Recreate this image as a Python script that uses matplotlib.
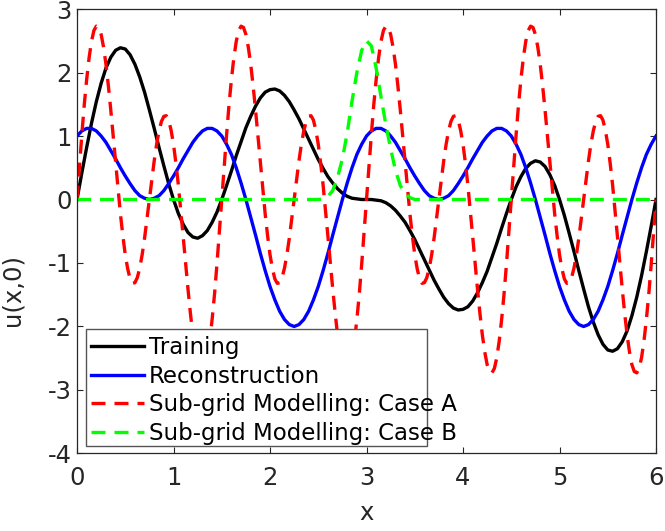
import numpy as np
import matplotlib.pyplot as plt
from matplotlib.patches import Rectangle

plt.rcParams['font.family'] = ['DejaVu Sans']
plt.rcParams['axes.unicode_minus'] = False

# sample positions along x
x_coarse = np.linspace(0, 6, 121)   # step 0.05
x_fine = np.linspace(0, 6, 241)     # step 0.025

training = [
    0.00, 0.42, 0.82, 1.20, 1.54, 1.83, 2.07, 2.24, 2.35, 2.39,
    2.37, 2.28, 2.13, 1.93, 1.69, 1.41, 1.12, 0.82, 0.53, 0.25,
    0.00, -0.22, -0.39, -0.52, -0.59, -0.61, -0.57, -0.49, -0.36, -0.20,
    0.00, 0.22, 0.45, 0.69, 0.91, 1.13, 1.31, 1.47, 1.60, 1.69,
    1.73, 1.74, 1.71, 1.64, 1.54, 1.41, 1.27, 1.11, 0.95, 0.79,
    0.63, 0.49, 0.36, 0.26, 0.17, 0.10, 0.05, 0.02, 0.01, 0.00,
    0.00, -0.00, -0.01, -0.02, -0.05, -0.10, -0.17, -0.26, -0.36, -0.49,
    -0.63, -0.79, -0.95, -1.11, -1.27, -1.41, -1.54, -1.64, -1.71, -1.74,
    -1.73, -1.69, -1.60, -1.47, -1.31, -1.13, -0.91, -0.69, -0.45, -0.22,
    0.00, 0.20, 0.36, 0.49, 0.57, 0.61, 0.59, 0.52, 0.39, 0.22,
    0.00, -0.25, -0.53, -0.82, -1.12, -1.41, -1.69, -1.93, -2.13, -2.28,
    -2.37, -2.39, -2.35, -2.24, -2.07, -1.83, -1.54, -1.20, -0.82, -0.42,
    0.00,
]

reconstruction = [
    1.00, 1.08, 1.12, 1.12, 1.08, 1.00, 0.90, 0.77, 0.64, 0.50,
    0.37, 0.25, 0.14, 0.06, 0.02, 0.00, 0.02, 0.06, 0.14, 0.25,
    0.37, 0.50, 0.64, 0.77, 0.90, 1.00, 1.08, 1.12, 1.12, 1.08,
    1.00, 0.87, 0.71, 0.50, 0.26, 0.00, -0.28, -0.56, -0.85, -1.12,
    -1.37, -1.58, -1.76, -1.89, -1.97, -2.00, -1.97, -1.89, -1.76, -1.58,
    -1.37, -1.12, -0.85, -0.56, -0.28, 0.00, 0.26, 0.50, 0.71, 0.87,
    1.00, 1.08, 1.12, 1.12, 1.08, 1.00, 0.90, 0.77, 0.64, 0.50,
    0.37, 0.25, 0.14, 0.06, 0.02, 0.00, 0.02, 0.06, 0.14, 0.25,
    0.37, 0.50, 0.64, 0.77, 0.90, 1.00, 1.08, 1.12, 1.12, 1.08,
    1.00, 0.87, 0.71, 0.50, 0.26, 0.00, -0.28, -0.56, -0.85, -1.12,
    -1.37, -1.58, -1.76, -1.89, -1.97, -2.00, -1.97, -1.89, -1.76, -1.58,
    -1.37, -1.12, -0.85, -0.56, -0.28, 0.00, 0.26, 0.50, 0.71, 0.87,
    1.00,
]

case_a = [
    0.00, 0.52, 1.02, 1.49, 1.89, 2.23, 2.49, 2.66, 2.73, 2.71,
    2.60, 2.40, 2.13, 1.79, 1.41, 1.00, 0.58, 0.17, -0.23, -0.57,
    -0.87, -1.09, -1.25, -1.32, -1.31, -1.23, -1.08, -0.87, -0.61, -0.31,
    0.00, 0.31, 0.61, 0.87, 1.08, 1.23, 1.31, 1.32, 1.25, 1.09,
    0.87, 0.57, 0.23, -0.17, -0.58, -1.00, -1.41, -1.79, -2.13, -2.40,
    -2.60, -2.71, -2.73, -2.66, -2.49, -2.23, -1.89, -1.49, -1.02, -0.52,
    0.00, 0.52, 1.02, 1.49, 1.89, 2.23, 2.49, 2.66, 2.73, 2.71,
    2.60, 2.40, 2.13, 1.79, 1.41, 1.00, 0.58, 0.17, -0.23, -0.57,
    -0.87, -1.09, -1.25, -1.32, -1.31, -1.23, -1.08, -0.87, -0.61, -0.31,
    0.00, 0.31, 0.61, 0.87, 1.08, 1.23, 1.31, 1.32, 1.25, 1.09,
    0.87, 0.57, 0.23, -0.17, -0.58, -1.00, -1.41, -1.79, -2.13, -2.40,
    -2.60, -2.71, -2.73, -2.66, -2.49, -2.23, -1.89, -1.49, -1.02, -0.52,
    0.00, 0.52, 1.02, 1.49, 1.89, 2.23, 2.49, 2.66, 2.73, 2.71,
    2.60, 2.40, 2.13, 1.79, 1.41, 1.00, 0.58, 0.17, -0.23, -0.57,
    -0.87, -1.09, -1.25, -1.32, -1.31, -1.23, -1.08, -0.87, -0.61, -0.31,
    0.00, 0.31, 0.61, 0.87, 1.08, 1.23, 1.31, 1.32, 1.25, 1.09,
    0.87, 0.57, 0.23, -0.17, -0.58, -1.00, -1.41, -1.79, -2.13, -2.40,
    -2.60, -2.71, -2.73, -2.66, -2.49, -2.23, -1.89, -1.49, -1.02, -0.52,
    0.00, 0.52, 1.02, 1.49, 1.89, 2.23, 2.49, 2.66, 2.73, 2.71,
    2.60, 2.40, 2.13, 1.79, 1.41, 1.00, 0.58, 0.17, -0.23, -0.57,
    -0.87, -1.09, -1.25, -1.32, -1.31, -1.23, -1.08, -0.87, -0.61, -0.31,
    0.00, 0.31, 0.61, 0.87, 1.08, 1.23, 1.31, 1.32, 1.25, 1.09,
    0.87, 0.57, 0.23, -0.17, -0.58, -1.00, -1.41, -1.79, -2.13, -2.40,
    -2.60, -2.71, -2.73, -2.66, -2.49, -2.23, -1.89, -1.49, -1.02, -0.52,
    0.00,
]

case_b = [
    0.00, 0.00, 0.00, 0.00, 0.00, 0.00, 0.00, 0.00, 0.00, 0.00,
    0.00, 0.00, 0.00, 0.00, 0.00, 0.00, 0.00, 0.00, 0.00, 0.00,
    0.00, 0.00, 0.00, 0.00, 0.00, 0.00, 0.00, 0.00, 0.00, 0.00,
    0.00, 0.00, 0.00, 0.00, 0.00, 0.00, 0.00, 0.00, 0.00, 0.00,
    0.00, 0.00, 0.00, 0.00, 0.00, 0.00, 0.00, 0.00, 0.00, 0.00,
    0.00, 0.01, 0.05, 0.14, 0.35, 0.64, 1.05, 1.55, 2.00, 2.35,
    2.50, 2.42, 2.07, 1.62, 1.18, 0.80, 0.46, 0.22, 0.09, 0.03,
    0.00, 0.00, 0.00, 0.00, 0.00, 0.00, 0.00, 0.00, 0.00, 0.00,
    0.00, 0.00, 0.00, 0.00, 0.00, 0.00, 0.00, 0.00, 0.00, 0.00,
    0.00, 0.00, 0.00, 0.00, 0.00, 0.00, 0.00, 0.00, 0.00, 0.00,
    0.00, 0.00, 0.00, 0.00, 0.00, 0.00, 0.00, 0.00, 0.00, 0.00,
    0.00, 0.00, 0.00, 0.00, 0.00, 0.00, 0.00, 0.00, 0.00, 0.00,
    0.00,
]

labels = ['Training', 'Reconstruction',
          'Sub-grid Modelling: Case A', 'Sub-grid Modelling: Case B']

axis_col = '#262626'
lw = 2.4
dash = (4.2, 2.7)

fig = plt.figure(figsize=(6.65, 5.31), dpi=100)
ax = fig.add_axes([0.1158, 0.146, 0.8707, 0.837])

ax.plot(x_coarse, training, color='k', lw=lw, label=labels[0])
ax.plot(x_coarse, reconstruction, color='#0000ff', lw=lw, label=labels[1])
ax.plot(x_fine, case_a, color='#ff0000', lw=lw, ls='--', dashes=dash, label=labels[2])
ax.plot(x_coarse, case_b, color='#00ff00', lw=lw, ls='--', dashes=dash, label=labels[3])

ax.set_xlim(0, 6)
ax.set_ylim(-4, 3)
ax.set_xticks(range(0, 7))
ax.set_yticks(range(-4, 4))
ax.tick_params(direction='in', length=4, width=0.8, colors=axis_col,
               labelsize=17.5, top=True, right=True)
ax.tick_params(axis='x', pad=9)
ax.tick_params(axis='y', pad=4)
for s in ax.spines.values():
    s.set_color(axis_col)
    s.set_linewidth(0.9)

ax.set_xlabel('x', fontsize=17.5, color=axis_col, labelpad=8)
ax.set_ylabel('u(x,0)', fontsize=17.5, color=axis_col)
ax.yaxis.set_label_coords(-0.09, 0.368)

# white legend box, entries drawn without their own frame on top of it
box = Rectangle((0.0155, 0.017), 0.589, 0.263, transform=ax.transAxes,
                facecolor='white', edgecolor='#555555', lw=1.0, zorder=4)
ax.add_patch(box)
leg = ax.legend(loc='upper left', bbox_to_anchor=(0.0242, 0.264),
                frameon=False, fontsize=16.5, borderpad=0, borderaxespad=0,
                handlelength=2.3, handletextpad=0.22, labelspacing=0.245)
leg.set_zorder(5)

fig.savefig('out.png', dpi=100, facecolor='white')
